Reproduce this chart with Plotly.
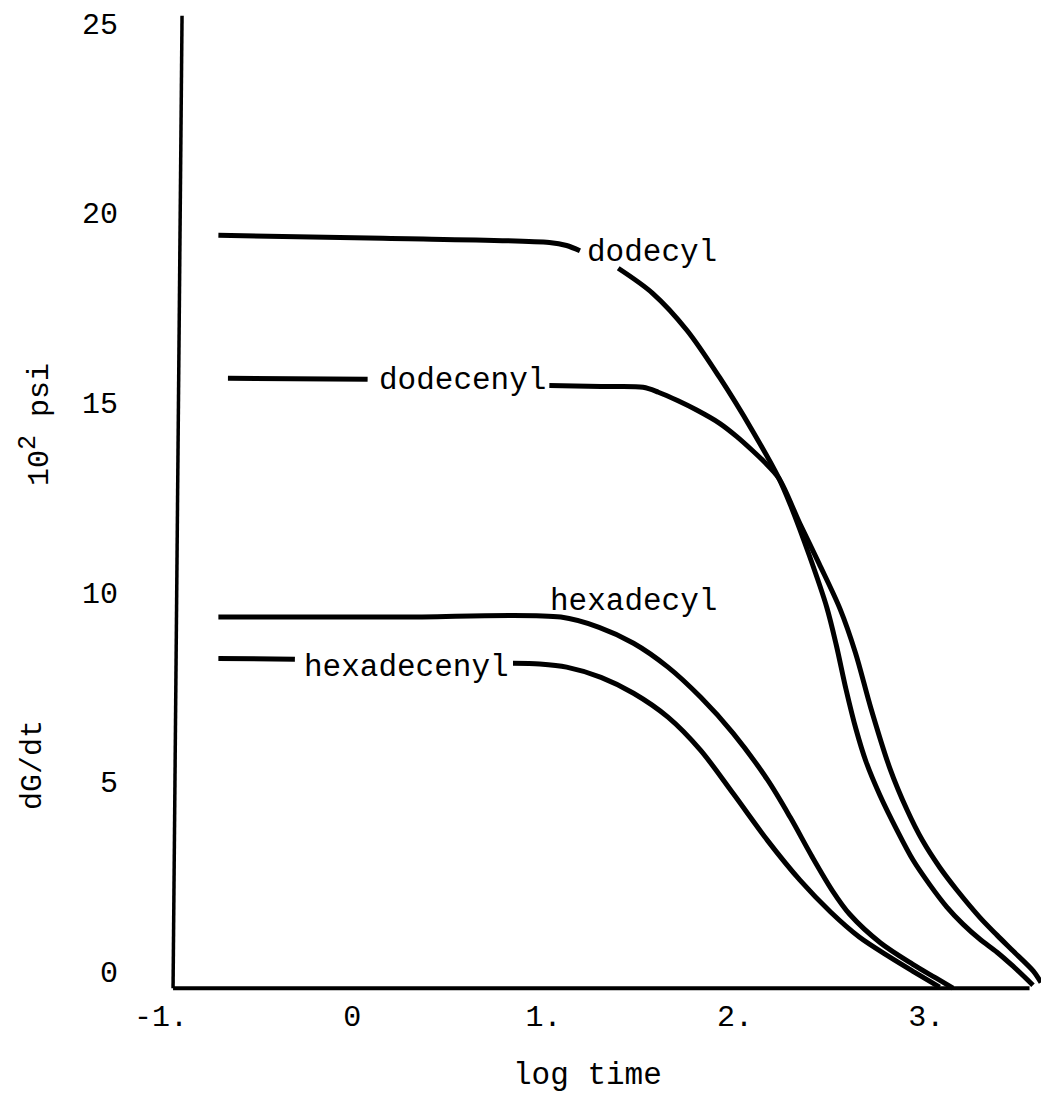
import plotly.graph_objects as go

# ---- data ----
x_tick_vals = [-1, 0, 1, 2, 3]
x_tick_text = ["-1.", "0", "1.", "2.", "3."]
y_tick_vals = [0, 5, 10, 15, 20, 25]
y_tick_text = ["0", "5", "10", "15", "20", "25"]

dodecyl_x = [-0.70, 0.16, 1.03, 1.12, 1.19, None,
             1.39, 1.57, 1.75, 1.92, 2.09, 2.23, 2.29, 2.39, 2.48, 2.53, 2.58,
             2.633, 2.685, 2.758, 2.847, 2.931, 3.02, 3.108, 3.192, 3.281, 3.37, 3.454, 3.558]
dodecyl_y = [19.41, 19.33, 19.22, 19.14, 19.00, None,
             18.54, 17.88, 16.90, 15.66, 14.27, 13.00, 12.30, 10.95, 9.60, 8.60, 7.45,
             6.38, 5.53, 4.64, 3.72, 2.93, 2.27, 1.69, 1.24, 0.84, 0.50, 0.13, -0.37]

dodecenyl_x = [-0.65, 0.08, None,
               1.03, 1.30, 1.52, 1.60, 1.70, 1.80, 1.92, 2.01, 2.09, 2.16, 2.23,
               2.34, 2.44, 2.55, 2.63, 2.71, 2.81, 2.90, 2.98, 3.07, 3.16, 3.28,
               3.37, 3.45, 3.56, 3.60]
dodecenyl_y = [15.64, 15.61, None,
               15.45, 15.42, 15.40, 15.27, 15.05, 14.80, 14.45, 14.10, 13.74, 13.40, 13.00,
               11.80, 10.75, 9.55, 8.40, 6.95, 5.35, 4.25, 3.45, 2.74, 2.14, 1.42,
               0.95, 0.55, 0.00, -0.30]

hexadecyl_x = [-0.70, 0.25, 1.09, 1.29, 1.47, 1.65, 1.82, 1.99, 2.17, 2.29, 2.40,
               2.51, 2.60, 2.76, 2.93, 3.05, 3.14]
hexadecyl_y = [9.34, 9.34, 9.34, 9.07, 8.65, 8.02, 7.23, 6.28, 5.05, 4.05, 3.05,
               2.12, 1.50, 0.75, 0.18, -0.18, -0.45]

hexadecenyl_x = [-0.70, -0.30, None,
                 0.84, 0.98, 1.12, 1.30, 1.47, 1.65, 1.82, 1.99, 2.17, 2.34, 2.50,
                 2.65, 2.81, 2.94, 3.07]
hexadecenyl_y = [8.25, 8.23, None,
                 8.12, 8.10, 8.02, 7.75, 7.33, 6.70, 5.83, 4.69, 3.45, 2.40, 1.56,
                 0.90, 0.37, -0.03, -0.42]

series = [("dodecyl", dodecyl_x, dodecyl_y),
          ("dodecenyl", dodecenyl_x, dodecenyl_y),
          ("hexadecyl", hexadecyl_x, hexadecyl_y),
          ("hexadecenyl", hexadecenyl_x, hexadecenyl_y)]

# label positions (text centres, data units)
label_names = ["dodecyl", "dodecenyl", "hexadecyl", "hexadecenyl"]
label_x = [1.567, 0.577, 1.47, 0.285]
label_y = [18.96, 15.59, 9.76, 8.02]

FONT = "Liberation Mono, Courier New, monospace"

fig = go.Figure()
for name, xs, ys in series:
    fig.add_trace(go.Scatter(
        x=xs, y=ys, mode="lines", name=name, connectgaps=False,
        line=dict(color="black", width=5, shape="spline", smoothing=0.9),
        showlegend=False, hoverinfo="skip"))

for t, lx, ly in zip(label_names, label_x, label_y):
    fig.add_annotation(x=lx, y=ly, xref="x", yref="y", text=t, showarrow=False,
                       xanchor="center", yanchor="middle",
                       font=dict(family=FONT, size=31, color="black"))

# axis lines (hand-drawn look)
fig.add_shape(type="line", xref="x", yref="y", x0=-0.890, y0=25.2, x1=-0.937, y1=-0.45,
              line=dict(color="black", width=3.5))
fig.add_shape(type="line", xref="x", yref="y", x0=-0.937, y0=-0.45, x1=3.54, y1=-0.45,
              line=dict(color="black", width=4))

# axis titles
fig.add_annotation(x=0.485, y=-0.0857, xref="paper", yref="paper", text="log time",
                   showarrow=False, xanchor="center", yanchor="middle",
                   font=dict(family=FONT, size=31, color="black"))
fig.add_annotation(x=-0.142, y=0.5786, xref="paper", yref="paper",
                   text="10<sup><span style='font-size:25px'>2</span></sup> psi",
                   textangle=-90, showarrow=False,
                   xanchor="center", yanchor="middle",
                   font=dict(family=FONT, size=30, color="black"))
fig.add_annotation(x=-0.1455, y=0.2316, xref="paper", yref="paper",
                   text="dG/dt", textangle=-90, showarrow=False,
                   xanchor="center", yanchor="middle",
                   font=dict(family=FONT, size=30, color="black"))

fig.update_layout(
    width=1041, height=1094,
    margin=dict(l=161, r=0, t=12, b=102),
    paper_bgcolor="white", plot_bgcolor="white",
    xaxis=dict(range=[-1.0, 3.6], tickvals=x_tick_vals, ticktext=x_tick_text,
               showgrid=False, zeroline=False, showline=False, ticks="",
               ticklabelstandoff=3,
               tickfont=dict(family=FONT, size=30, color="black")),
    yaxis=dict(range=[-0.55, 25.3], tickvals=y_tick_vals, ticktext=y_tick_text,
               showgrid=False, zeroline=False, showline=False, ticks="",
               ticklabelstandoff=42,
               tickfont=dict(family=FONT, size=30, color="black")),
)

fig.write_html("out.html")
